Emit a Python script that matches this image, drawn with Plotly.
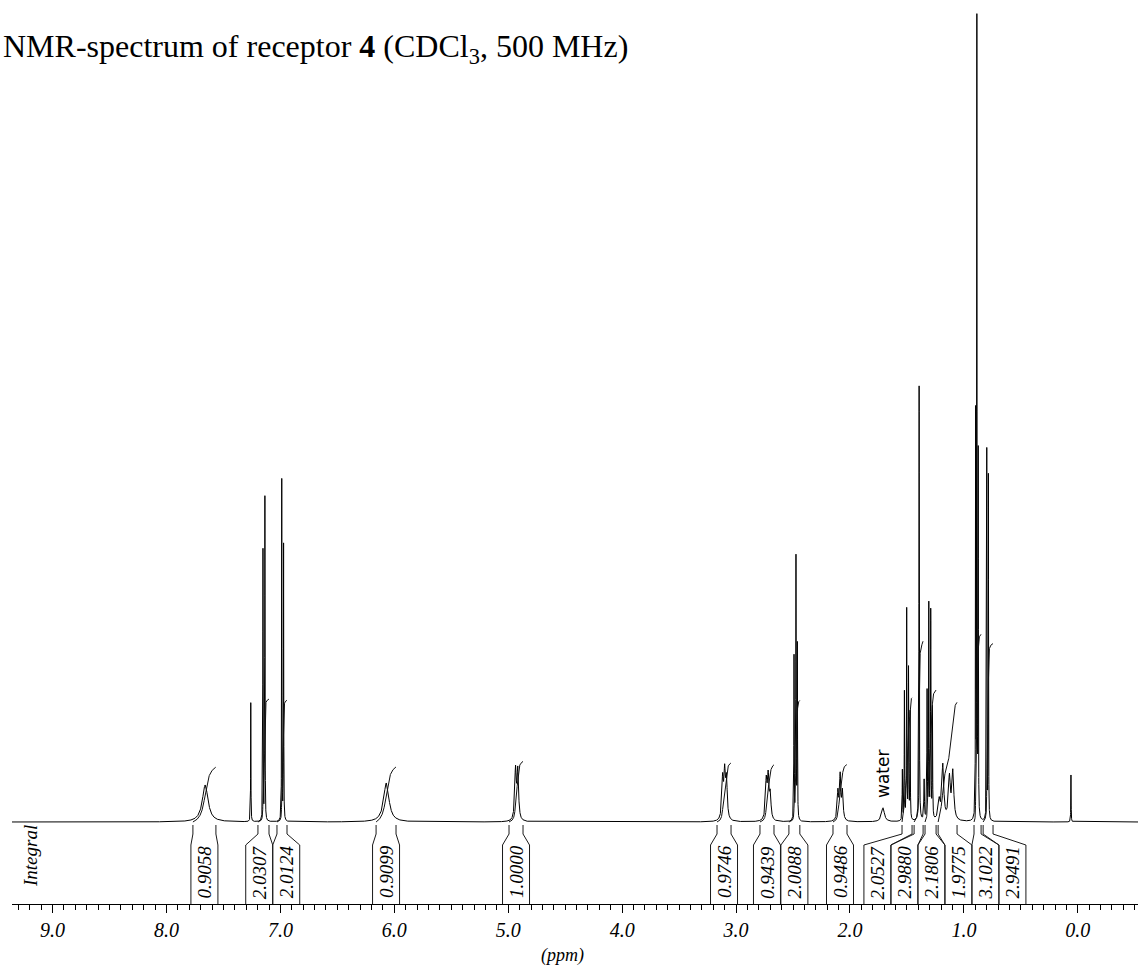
import numpy as np
import plotly.graph_objects as go

# ---------------- data ----------------
# peak list: chemical shift (ppm), height (arb. units), half width (ppm)
peak_ppm = [7.660, 7.260, 7.153, 7.136, 6.988, 6.972, 6.070,
            4.936, 4.916,
            3.118, 3.100, 3.084,
            2.735, 2.718, 2.700,
            2.491, 2.474, 2.462,
            2.106, 2.086, 2.066,
            1.710,
            1.540, 1.522, 1.502, 1.486, 1.472,
            1.393,
            1.349, 1.323, 1.308, 1.291, 1.276,
            1.217, 1.185, 1.127, 1.097,
            0.897, 0.886, 0.874,
            0.799, 0.785,
            0.060]
peak_height = [37, 119, 271, 324, 341, 276, 39,
               50, 49,
               40, 44, 38,
               38, 41, 24,
               164, 262, 174,
               28, 44, 28,
               14,
               50, 128, 210, 150, 107,
               435,
               40, 127, 214, 207, 110,
               19, 55, 42, 48,
               400, 795, 362,
               370, 344,
               47]
peak_hwhm = [0.030, 0.0015, 0.0015, 0.0015, 0.0015, 0.0015, 0.028,
             0.008, 0.008,
             0.008, 0.008, 0.008,
             0.008, 0.008, 0.008,
             0.0018, 0.0018, 0.0018,
             0.007, 0.007, 0.007,
             0.015,
             0.002, 0.002, 0.002, 0.002, 0.002,
             0.002,
             0.003, 0.002, 0.002, 0.002, 0.002,
             0.010, 0.010, 0.010, 0.010,
             0.0015, 0.0015, 0.0015,
             0.0015, 0.0015,
             0.0015]

# integration regions (ppm) and integral values
int_hi = [7.768, 7.197, 7.030, 6.160, 4.993, 3.167, 2.790, 2.536, 2.149,
          1.543, 1.437, 1.341, 1.226, 0.911, 0.831]
int_lo = [7.566, 7.100, 6.942, 5.985, 4.870, 3.044, 2.667, 2.440, 2.026,
          1.455, 1.358, 1.244, 1.060, 0.849, 0.744]
int_value = [0.9058, 2.0307, 2.0124, 0.9099, 1.0000, 0.9746, 0.9439, 2.0088, 0.9486,
             2.0527, 2.9880, 2.1806, 1.9775, 3.1022, 2.9491]

tick_values = [0, 1, 2, 3, 4, 5, 6, 7, 8, 9]
title_text = "NMR-spectrum of receptor <b>4</b> (CDCl<sub>3</sub>, 500 MHz)"

# ---------------- figure geometry ----------------
W, H = 1138, 967
ML, MB = 12, 63
X_RANGE = [9.3561, -0.5285]
Y_RANGE = [-82, 822]
PX_PER_PPM = (W - ML) / (X_RANGE[0] - X_RANGE[1])
INT_SCALE = 60.5          # integral curve height per unit
BOX_W = 27 / PX_PER_PPM   # width of label box (ppm)

# ---------------- spectrum ----------------
grid = np.union1d(np.arange(X_RANGE[1], X_RANGE[0], 0.0005), np.array(peak_ppm))
spec = np.zeros_like(grid)
for p, h, w in zip(peak_ppm, peak_height, peak_hwhm):
    spec += h / (1.0 + ((grid - p) / w) ** 2)

fig = go.Figure()
fig.add_trace(go.Scatter(x=grid, y=spec, mode="lines",
                         line=dict(color="black", width=1), hoverinfo="skip"))

# ---------------- integral curves ----------------
for hi, lo, val in zip(int_hi, int_lo, int_value):
    m = (grid >= lo) & (grid <= hi)
    xs = grid[m][::-1]
    ys = spec[m][::-1]
    cum = np.concatenate([[0.0], np.cumsum(0.5 * (ys[1:] + ys[:-1]) * np.abs(np.diff(xs)))])
    curve = cum / cum[-1] * val * INT_SCALE
    fig.add_trace(go.Scatter(x=xs, y=curve, mode="lines",
                             line=dict(color="#111111", width=1), hoverinfo="skip"))

# ---------------- label box placement (cluster to avoid overlap) ----------------
centers = [(hi + lo) / 2 for hi, lo in zip(int_hi, int_lo)]
order = sorted(range(len(centers)), key=lambda i: -centers[i])
clusters = [[i] for i in order]

def cluster_top(c):
    mean = np.mean([centers[i] for i in c])
    return mean + len(c) * BOX_W / 2

changed = True
while changed:
    changed = False
    for k in range(len(clusters) - 1):
        a, b = clusters[k], clusters[k + 1]
        a_low = cluster_top(a) - len(a) * BOX_W
        b_high = cluster_top(b)
        if a_low < b_high - 1e-9:
            clusters[k] = a + b
            del clusters[k + 1]
            changed = True
            break

box_center = {}
for c in clusters:
    top = cluster_top(c)
    for j, i in enumerate(c):
        box_center[i] = top - (j + 0.5) * BOX_W

bx, by = [], []
for i, (hi, lo) in enumerate(zip(int_hi, int_lo)):
    bc = box_center[i]
    for edge, bedge in ((hi, bc + BOX_W / 2), (lo, bc - BOX_W / 2)):
        bx += [edge, edge, bedge, bedge, None]
        by += [-3, -12, -23, Y_RANGE[0], None]
fig.add_trace(go.Scatter(x=bx, y=by, mode="lines",
                         line=dict(color="#1a1a1a", width=1), hoverinfo="skip"))

serif = "Liberation Serif, Times New Roman, serif"
for i, val in enumerate(int_value):
    fig.add_annotation(x=box_center[i], y=-50, text=f"{val:.4f}", showarrow=False,
                       textangle=-90, xanchor="center", yanchor="middle",
                       font=dict(family=serif, size=19, color="black", style="italic"))

fig.add_annotation(x=X_RANGE[0] - 18 / PX_PER_PPM, y=-34, text="Integral", showarrow=False,
                   textangle=-90, xanchor="center", yanchor="middle",
                   font=dict(family=serif, size=19, color="black", style="italic"))

water_idx = peak_ppm.index(1.710)
fig.add_annotation(x=peak_ppm[water_idx], y=peak_height[water_idx] + 34, text="water",
                   showarrow=False, textangle=-90, xanchor="center", yanchor="middle",
                   font=dict(family="DejaVu Sans, Verdana, sans-serif", size=17, color="black"))

fig.add_annotation(x=4.52, y=-51 / (H - MB), yref="paper", text="(ppm)", showarrow=False,
                   xanchor="center", yanchor="middle",
                   font=dict(family=serif, size=18, color="black", style="italic"))

fig.update_layout(
    width=W, height=H,
    margin=dict(l=ML, r=0, t=0, b=MB),
    paper_bgcolor="white", plot_bgcolor="white",
    showlegend=False,
    title=dict(text=title_text, x=3 / W, xanchor="left", xref="container",
               y=1 - 46 / H, yanchor="middle", yref="container",
               font=dict(family=serif, size=32, color="black")),
    xaxis=dict(range=X_RANGE, showgrid=False, zeroline=False,
               showline=True, linecolor="black", linewidth=1,
               ticks="outside", ticklen=8, tickcolor="black", tickwidth=1,
               tickvals=tick_values, tickformat=".1f",
               tickfont=dict(family=serif, size=20, color="black", style="italic"),
               minor=dict(dtick=0.1, tick0=0, ticks="outside", ticklen=5,
                          tickcolor="black", tickwidth=1, showgrid=False)),
    yaxis=dict(range=Y_RANGE, visible=False, showgrid=False, zeroline=False),
)

fig.write_html("out.html")
